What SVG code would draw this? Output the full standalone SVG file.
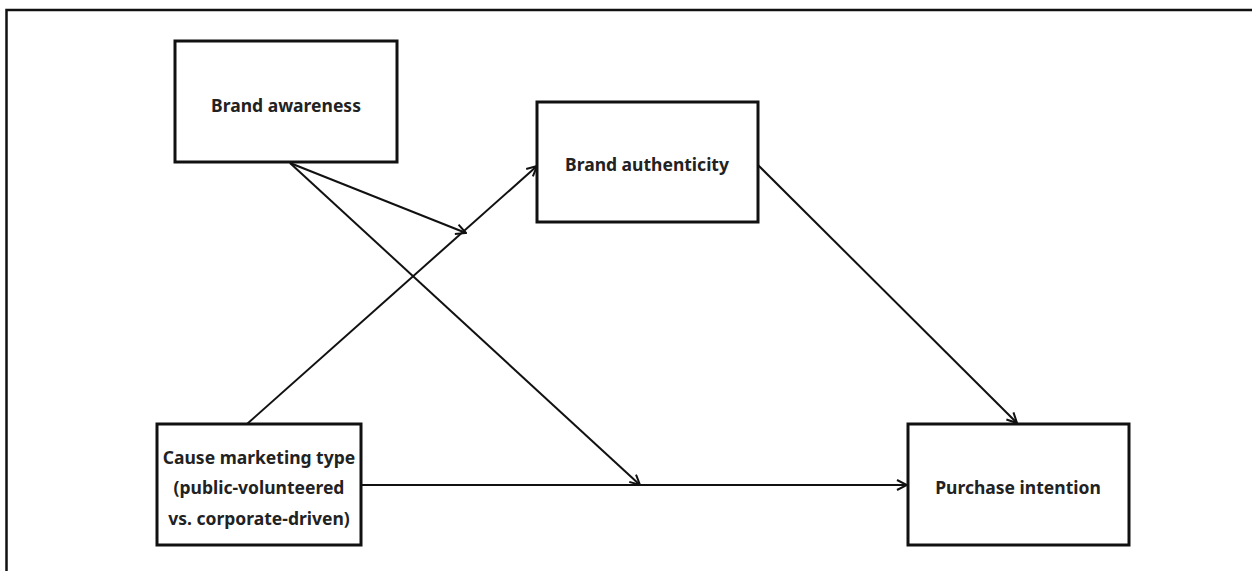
<svg xmlns="http://www.w3.org/2000/svg" width="1252" height="571" viewBox="0 0 1252 571">
<style>
.box{fill:#fff;stroke:#111;stroke-width:3}
.t{font-family:"Noto Sans","Liberation Sans",sans-serif;font-weight:bold;font-size:17.5px;fill:#222;text-anchor:middle;dominant-baseline:central}
.c{stroke:#111;stroke-width:2;fill:none}
</style>
<defs>
<marker id="ah" viewBox="0 0 12 12" refX="11" refY="6" markerWidth="12" markerHeight="12" markerUnits="userSpaceOnUse" orient="auto">
<path d="M1,1 L11,6 L1,11" fill="none" stroke="#111" stroke-width="2"/>
</marker>
</defs>
<rect width="1252" height="571" fill="#fff"/>
<path d="M6.5,571 V10 H1252" fill="none" stroke="#111" stroke-width="2.5"/>
<g id="connectors">
<line class="c" x1="290" y1="163" x2="466" y2="233" marker-end="url(#ah)"/>
<line class="c" x1="290" y1="163" x2="640" y2="485" marker-end="url(#ah)"/>
<line class="c" x1="247" y1="424" x2="537" y2="166" marker-end="url(#ah)"/>
<line class="c" x1="758" y1="165" x2="1017" y2="423" marker-end="url(#ah)"/>
<line class="c" x1="361" y1="485" x2="907" y2="485" marker-end="url(#ah)"/>
</g>
<g id="brand-awareness">
<rect class="box" x="175" y="41" width="222" height="121"/>
<text class="t" x="286" y="105">Brand awareness</text>
</g>
<g id="brand-authenticity">
<rect class="box" x="537" y="102" width="221" height="120"/>
<text class="t" x="647" y="164">Brand authenticity</text>
</g>
<g id="cause-marketing-type">
<rect class="box" x="157" y="424" width="204" height="121"/>
<text class="t" x="259" y="457">Cause marketing type</text>
<text class="t" x="259" y="487">(public-volunteered</text>
<text class="t" x="259" y="518">vs. corporate-driven)</text>
</g>
<g id="purchase-intention">
<rect class="box" x="908" y="424" width="221" height="121"/>
<text class="t" x="1018" y="487">Purchase intention</text>
</g>
</svg>
